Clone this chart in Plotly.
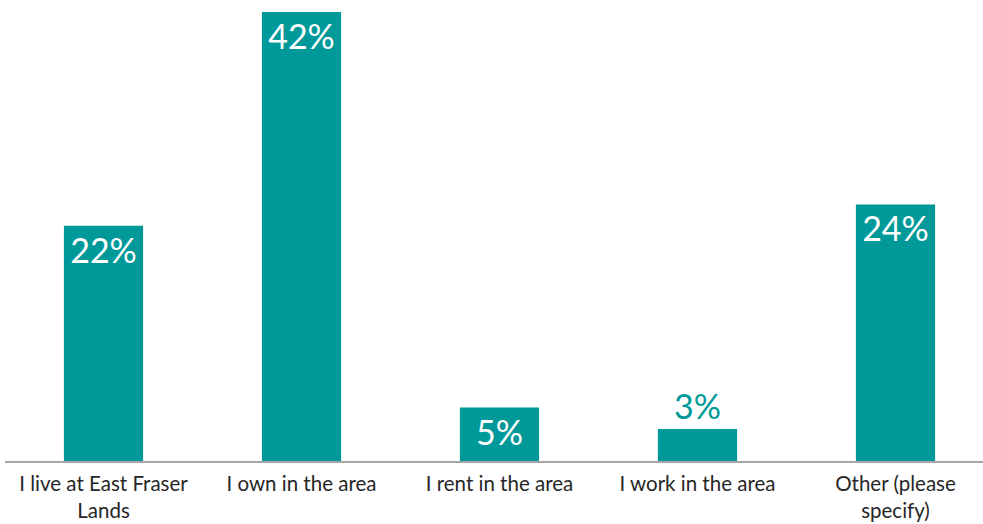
import plotly.graph_objects as go

categories = [
    "I live at East Fraser<br>Lands",
    "I own in the area",
    "I rent in the area",
    "I work in the area",
    "Other (please<br>specify)",
]
values = [22, 42, 5, 3, 24]
label_positions = ["inside", "inside", "inside", "outside", "inside"]
label_colors = ["white", "white", "white", "#009999", "white"]

TEAL = "#009999"
positions = list(range(len(categories)))

fig = go.Figure(
    go.Bar(
        x=positions,
        y=values,
        width=0.4,
        marker=dict(color=TEAL, line=dict(width=0)),
        text=[f"{v}%" for v in values],
        textposition=label_positions,
        insidetextanchor="end",
        textfont=dict(family="Lato", size=34, color=label_colors),
        cliponaxis=False,
        hoverinfo="skip",
    )
)

fig.update_layout(
    width=983,
    height=524,
    margin=dict(l=5, r=0, t=0, b=63),
    paper_bgcolor="white",
    plot_bgcolor="white",
    showlegend=False,
    uniformtext=dict(minsize=34, mode="show"),
    xaxis=dict(
        range=[-0.4975, 4.442],
        tickvals=positions,
        ticktext=categories,
        showgrid=False,
        zeroline=False,
        showline=True,
        linecolor="#a6a6a6",
        linewidth=1.5,
        ticks="",
        ticklabelstandoff=4,
        automargin=False,
        tickfont=dict(family="Lato", size=20.5, color="#262626"),
    ),
    yaxis=dict(
        range=[0, 43.13],
        showgrid=False,
        zeroline=False,
        showticklabels=False,
        showline=False,
        automargin=False,
    ),
)

fig.write_html("out.html")
